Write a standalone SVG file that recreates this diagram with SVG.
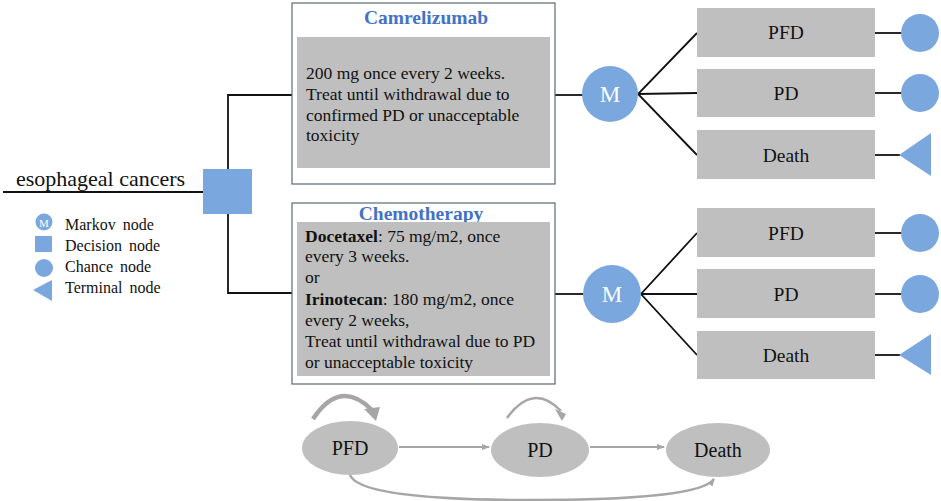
<svg xmlns="http://www.w3.org/2000/svg" width="941" height="501" viewBox="0 0 941 501">
<style>
.t{font-family:"Liberation Serif","Times New Roman",serif;fill:#111}
.ln{stroke:#111;stroke-width:1.8;fill:none}
.blue{fill:#7ba7df}
.gbox{fill:#bfbfbf}
.obox{fill:#fff;stroke:#5a6a72;stroke-width:1.2}
.ttl{font-family:"Liberation Serif","Times New Roman",serif;font-weight:bold;fill:#4472c4;font-size:19.5px}
.g{stroke:#a6a6a6;fill:none}
</style>
<defs>
<marker id="ah" markerWidth="8" markerHeight="8" refX="7" refY="4" orient="auto" markerUnits="userSpaceOnUse">
<path d="M0,1 L8,4 L0,7 Z" fill="#a6a6a6"/>
</marker>
</defs>
<g id="connectors">
<line class="ln" x1="3" y1="192" x2="203" y2="192"/>
<polyline class="ln" points="292,95 228,95 228,293 292,293"/>
<line class="ln" x1="555" y1="95" x2="583" y2="95"/>
<line class="ln" x1="555" y1="294" x2="583" y2="294"/>
<polyline class="ln" points="697,33 638,94 697,155"/>
<line class="ln" x1="638" y1="94" x2="697" y2="93"/>
<polyline class="ln" points="697,233 641,294 697,355"/>
<line class="ln" x1="641" y1="294" x2="697" y2="294"/>
<line class="ln" x1="875" y1="33" x2="902" y2="33"/>
<line class="ln" x1="875" y1="93" x2="902" y2="93"/>
<line class="ln" x1="875" y1="155" x2="900" y2="155"/>
<line class="ln" x1="875" y1="233" x2="902" y2="233"/>
<line class="ln" x1="875" y1="294" x2="902" y2="294"/>
<line class="ln" x1="875" y1="355" x2="900" y2="355"/>
<line class="g" stroke-width="2" x1="399" y1="447" x2="489" y2="447" marker-end="url(#ah)"/>
<line class="g" stroke-width="2" x1="590" y1="447" x2="664" y2="447" marker-end="url(#ah)"/>
<path class="g" stroke-width="2.5" d="M350,475 Q360,500 530,500 Q700,500 714,479" marker-end="url(#ah)"/>
<path class="g" stroke-width="4.5" d="M313,419 Q340,378 372,410"/>
<path d="M364,409 L380,407 L376,421 Z" fill="#a6a6a6"/>
<path class="g" stroke-width="2.5" d="M507,418 Q533,382 561,411"/>
<path d="M555,409 L566,414 L562,421 Z" fill="#a6a6a6"/>
</g>
<g id="root">
<text class="t" x="16" y="186" font-size="22">esophageal cancers</text>
</g>
<g id="decision">
<rect class="blue" x="203" y="169" width="49" height="45"/>
</g>
<g id="legend">
<circle class="blue" cx="44" cy="222" r="8.5"/>
<text x="44" y="226.5" font-size="11" text-anchor="middle" font-family="Liberation Serif,serif" fill="#fff">M</text>
<rect class="blue" x="35" y="236" width="17" height="16"/>
<circle class="blue" cx="44" cy="268" r="9"/>
<path class="blue" d="M33,290 L52,280 L52,301 Z"/>
<text class="t" x="65" y="230" font-size="16" word-spacing="3">Markov node</text>
<text class="t" x="65" y="251" font-size="16" word-spacing="3">Decision node</text>
<text class="t" x="65" y="272" font-size="16" word-spacing="3">Chance node</text>
<text class="t" x="65" y="293" font-size="16" word-spacing="3">Terminal node</text>
</g>
<g id="camrelizumab">
<rect class="obox" x="292" y="3" width="263" height="181"/>
<text class="ttl" x="426" y="24" text-anchor="middle">Camrelizumab</text>
<rect class="gbox" x="297" y="37" width="253" height="131"/>
<text class="t" font-size="17.5"><tspan x="306" y="79">200 mg once every 2 weeks.</tspan><tspan x="306" y="100">Treat until withdrawal due to</tspan><tspan x="306" y="121">confirmed PD or unacceptable</tspan><tspan x="306" y="141">toxicity</tspan></text>
</g>
<g id="chemotherapy">
<rect class="obox" x="292" y="203" width="263" height="181"/>
<text class="ttl" x="421" y="220" text-anchor="middle">Chemotherapy</text>
<rect class="gbox" x="297" y="222" width="253" height="154"/>
<text class="t" font-size="17.5"><tspan x="305" y="242"><tspan font-weight="bold">Docetaxel</tspan>: 75 mg/m2, once</tspan><tspan x="305" y="262">every  3 weeks.</tspan><tspan x="305" y="283">or</tspan><tspan x="305" y="305"><tspan font-weight="bold">Irinotecan</tspan>:  180 mg/m2, once</tspan><tspan x="305" y="326">every  2 weeks,</tspan><tspan x="305" y="347">Treat until withdrawal  due to PD</tspan><tspan x="305" y="368">or unacceptable  toxicity</tspan></text>
</g>
<g id="markov1">
<circle class="blue" cx="610" cy="94" r="28"/>
<text x="610" y="102" font-size="23" text-anchor="middle" font-family="Liberation Serif,serif" fill="#fff">M</text>
</g>
<g id="markov2">
<circle class="blue" cx="612" cy="294" r="29"/>
<text x="612" y="302" font-size="23" text-anchor="middle" font-family="Liberation Serif,serif" fill="#fff">M</text>
</g>
<g id="top-pfd"><rect class="gbox" x="697" y="8" width="178" height="49"/><text class="t" x="786" y="39" font-size="19.5" text-anchor="middle">PFD</text><circle class="blue" cx="920" cy="33" r="19"/></g>
<g id="top-pd"><rect class="gbox" x="697" y="69" width="178" height="48"/><text class="t" x="786" y="100" font-size="19.5" text-anchor="middle">PD</text><circle class="blue" cx="920" cy="93" r="19"/></g>
<g id="top-death"><rect class="gbox" x="697" y="130" width="178" height="49"/><text class="t" x="786" y="162" font-size="19.5" text-anchor="middle">Death</text><path class="blue" d="M899,155 L931,133 L931,176 Z"/></g>
<g id="bot-pfd"><rect class="gbox" x="697" y="208" width="178" height="49"/><text class="t" x="786" y="240" font-size="19.5" text-anchor="middle">PFD</text><circle class="blue" cx="920" cy="233" r="19"/></g>
<g id="bot-pd"><rect class="gbox" x="697" y="269" width="178" height="49"/><text class="t" x="786" y="301" font-size="19.5" text-anchor="middle">PD</text><circle class="blue" cx="920" cy="294" r="19"/></g>
<g id="bot-death"><rect class="gbox" x="697" y="331" width="178" height="48"/><text class="t" x="786" y="362" font-size="19.5" text-anchor="middle">Death</text><path class="blue" d="M899,355 L931,334 L931,375 Z"/></g>
<g id="state-pfd"><ellipse class="gbox" cx="350" cy="448" rx="48" ry="27"/><text class="t" x="350" y="455" font-size="20" text-anchor="middle">PFD</text></g>
<g id="state-pd"><ellipse class="gbox" cx="540" cy="450" rx="49" ry="27"/><text class="t" x="540" y="457" font-size="20" text-anchor="middle">PD</text></g>
<g id="state-death"><ellipse class="gbox" cx="718" cy="450" rx="52" ry="27"/><text class="t" x="718" y="457" font-size="20" text-anchor="middle">Death</text></g>
</svg>
